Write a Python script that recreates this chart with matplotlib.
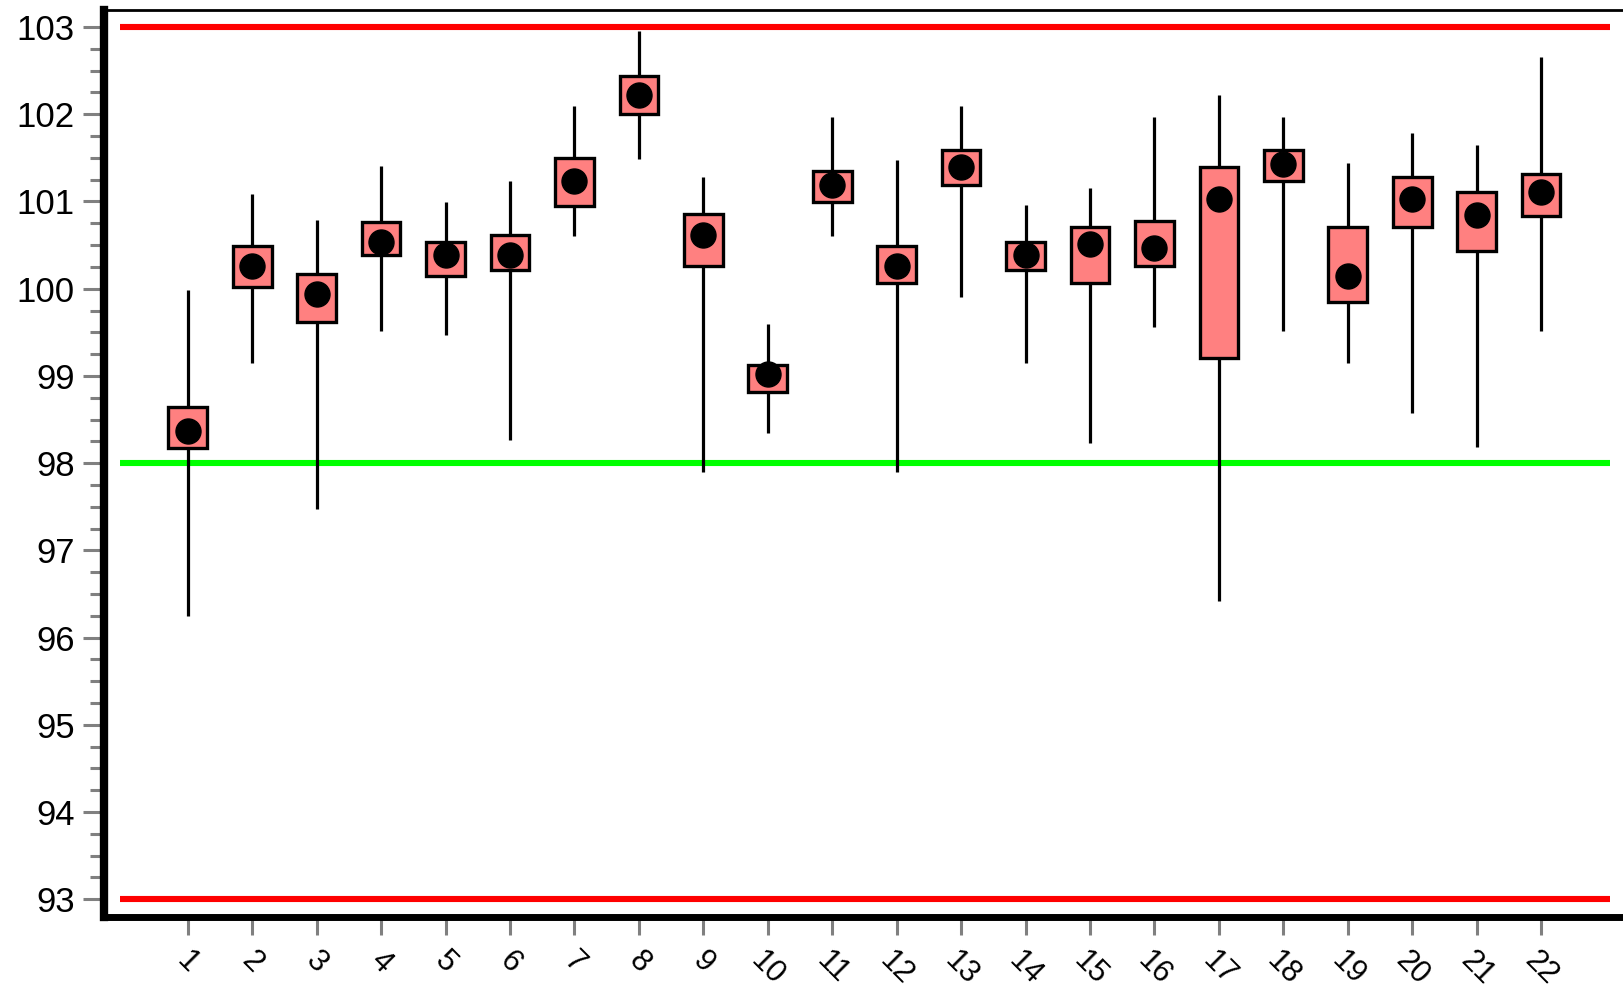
import matplotlib
matplotlib.use("Agg")
import matplotlib.pyplot as plt
from matplotlib.ticker import MultipleLocator

plt.rcParams['font.family'] = ['Liberation Sans', 'DejaVu Sans']

# Batch index and summary statistics per batch
batches = list(range(1, 23))
tick_labels = [str(b) for b in batches]
whisker_low = [96.25, 99.15, 97.47, 99.51, 99.47, 98.26, 100.60, 101.49, 97.90, 98.34, 100.60,
               97.90, 99.91, 99.15, 98.23, 99.56, 96.42, 99.51, 99.15, 98.58, 98.18, 99.51]
box_low = [98.17, 100.02, 99.62, 100.39, 100.14, 100.22, 100.95, 102.00, 100.26, 98.81, 100.99,
           100.07, 101.19, 100.22, 100.07, 100.26, 99.21, 101.23, 99.85, 100.71, 100.43, 100.83]
median = [98.37, 100.26, 99.94, 100.54, 100.39, 100.39, 101.24, 102.22, 100.62, 99.02, 101.19,
          100.26, 101.40, 100.39, 100.51, 100.47, 101.03, 101.43, 100.15, 101.03, 100.84, 101.11]
box_high = [98.64, 100.49, 100.17, 100.76, 100.54, 100.62, 101.50, 102.44, 100.86, 99.13, 101.35,
            100.49, 101.59, 100.54, 100.71, 100.78, 101.40, 101.59, 100.71, 101.28, 101.11, 101.31]
whisker_high = [99.99, 101.09, 100.79, 101.41, 100.99, 101.24, 102.10, 102.96, 101.28, 99.59, 101.97,
                101.48, 102.10, 100.96, 101.16, 101.97, 102.22, 101.97, 101.44, 101.78, 101.65, 102.66]

upper_limit = 103.0
lower_limit = 93.0
target = 98.0

fig = plt.figure(figsize=(16.23, 9.92), dpi=100)
ax = fig.add_axes([104 / 1623, 0.0759, (1623 - 104) / 1623, 0.914])

# Limit and target lines
line_x0, line_x1 = -0.05, 23.07
ax.hlines([upper_limit, lower_limit], line_x0, line_x1, colors='#FF0000', linewidth=4.4, zorder=1)
ax.hlines(target, line_x0, line_x1, colors='#00FF00', linewidth=4.4, zorder=1)

# Whiskers, boxes and medians
ax.vlines(batches, whisker_low, whisker_high, colors='black', linewidth=2.3, zorder=2)
heights = [h - l for h, l in zip(box_high, box_low)]
ax.bar(batches, heights, bottom=box_low, width=0.6, color='#FF8080',
       edgecolor='black', linewidth=2.4, zorder=3)
ax.plot(batches, median, linestyle='none', marker='o', markersize=18,
        markerfacecolor='black', markeredgecolor='black', zorder=4)

ax.set_xlim(-0.30, 23.27)
ax.set_ylim(92.80, 103.195)

ax.set_xticks(batches)
ax.set_xticklabels(tick_labels, rotation=-45, ha='center', va='top', fontsize=22)
ax.yaxis.set_major_locator(MultipleLocator(1))
ax.yaxis.set_minor_locator(MultipleLocator(0.25))
ax.tick_params(axis='y', which='major', length=15, width=2.2, color='#808080',
               labelsize=25, pad=6)
ax.tick_params(axis='y', which='minor', length=10, width=2.2, color='#808080')
ax.tick_params(axis='x', which='major', length=13, width=2.2, color='#808080', pad=8)

ax.spines['left'].set_linewidth(6)
ax.spines['bottom'].set_linewidth(5)
ax.spines['top'].set_linewidth(2)
ax.spines['right'].set_visible(False)

fig.savefig('out.png', dpi=100)
